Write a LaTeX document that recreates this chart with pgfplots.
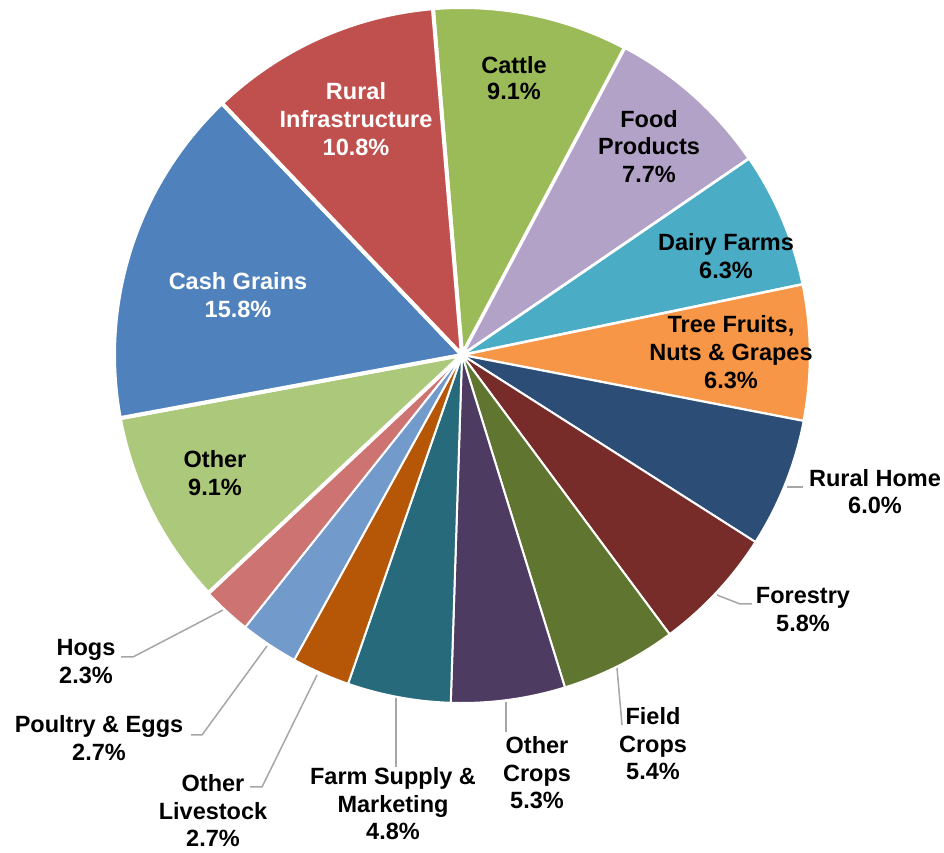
\documentclass[border=0pt]{standalone}
\usepackage{pgfplots}
\pgfplotsset{compat=1.18}
\usepackage{fontspec}
\setmainfont{Liberation Sans}
\definecolor{cattle}{HTML}{9BBB59}
\definecolor{food}{HTML}{B3A2C7}
\definecolor{dairy}{HTML}{4BACC6}
\definecolor{tree}{HTML}{F79646}
\definecolor{ruralhome}{HTML}{2C4D75}
\definecolor{forestry}{HTML}{772C2A}
\definecolor{field}{HTML}{5F7530}
\definecolor{othercrops}{HTML}{4D3B62}
\definecolor{farm}{HTML}{276A7C}
\definecolor{otherlive}{HTML}{B65708}
\definecolor{poultry}{HTML}{729ACA}
\definecolor{hogs}{HTML}{CD7371}
\definecolor{other}{HTML}{ACC87A}
\definecolor{cash}{HTML}{4F81BD}
\definecolor{ruralinf}{HTML}{C0504D}
\definecolor{leader}{HTML}{A6A6A6}
\begin{document}
\begin{tikzpicture}
\begin{axis}[hide axis, x=1pt, y=1pt, xmin=-462, xmax=482, ymin=-498, ymax=355, clip=false]
\pgfplotsextra{
  \gdef\cum{94.8}
  % value / colour / border width  (clockwise from the top)
  \foreach \v/\c/\w in {9.1/cattle/4, 7.7/food/3, 6.3/dairy/2.5, 6.3/tree/2.5,
     6.0/ruralhome/2, 5.8/forestry/2, 5.4/field/2, 5.3/othercrops/2, 4.8/farm/2,
     2.7/otherlive/2, 2.7/poultry/2, 2.3/hogs/2, 9.1/other/4, 15.8/cash/4, 10.8/ruralinf/4} {
    \pgfmathsetmacro\a{\cum}
    \pgfmathsetmacro\b{\cum-360*\v/100.1}
    \pgfmathsetmacro\px{348*cos(\a)}
    \pgfmathsetmacro\py{348*sin(\a)}
    \fill[\c, draw=white, line width=\w pt, line join=round] (axis cs:0,0) -- (axis cs:\px,\py) arc[start angle=\a, end angle=\b, radius=348pt] -- cycle;
    \xdef\cum{\b}
  }
  % leader lines
  \draw[leader, line width=1.5pt] (axis cs:-239,-255) -- (axis cs:-329,-302) -- (axis cs:-341,-302);
  \draw[leader, line width=1.5pt] (axis cs:-195,-291) -- (axis cs:-260,-380) -- (axis cs:-271,-380);
  \draw[leader, line width=1.5pt] (axis cs:-145,-320) -- (axis cs:-200,-432) -- (axis cs:-212,-432);
  \draw[leader, line width=1.5pt] (axis cs:-66,-343) -- (axis cs:-66,-412);
  \draw[leader, line width=1.5pt] (axis cs:44,-347) -- (axis cs:44,-377);
  \draw[leader, line width=1.5pt] (axis cs:155,-313) -- (axis cs:160,-370);
  \draw[leader, line width=1.5pt] (axis cs:255,-240) -- (axis cs:278,-249) -- (axis cs:290,-249);
  \draw[leader, line width=1.5pt] (axis cs:325,-132) -- (axis cs:341,-132);
  % labels: x / baseline y / colour / text
  \foreach \x/\y/\c/\t in {
     -224/65/white/{Cash Grains}, -224/37/white/{15.8\%},
     -106/255/white/{Rural}, -106/227/white/{Infrastructure}, -106/199/white/{10.8\%},
     52/281/black/{Cattle}, 52/255/black/{9.1\%},
     187/227/black/{Food}, 187/200/black/{Products}, 187/172/black/{7.7\%},
     264/104/black/{Dairy Farms}, 264/76/black/{6.3\%},
     269/22/black/{Tree Fruits,}, 269/-6/black/{Nuts \& Grapes}, 269/-34/black/{6.3\%},
     413/-132/black/{Rural Home}, 413/-159/black/{6.0\%},
     341/-249/black/{Forestry}, 341/-277/black/{5.8\%},
     191/-370/black/{Field}, 191/-398/black/{Crops}, 191/-425/black/{5.4\%},
     75/-399/black/{Other}, 75/-427/black/{Crops}, 75/-454/black/{5.3\%},
     -69/-430/black/{Farm Supply \&}, -69/-458/black/{Marketing}, -69/-485/black/{4.8\%},
     -249/-437/black/{Other}, -249/-465/black/{Livestock}, -249/-492/black/{2.7\%},
     -363/-378/black/{Poultry \& Eggs}, -363/-406/black/{2.7\%},
     -376/-301/black/{Hogs}, -376/-329/black/{2.3\%},
     -247/-113/black/{Other}, -247/-141/black/{9.1\%}} {
    \node[anchor=base, inner sep=0pt, text=\c, font=\fontsize{23.5}{28}\selectfont\bfseries] at (axis cs:\x,\y) {\t};
  }
}
\end{axis}
\pgfresetboundingbox
\path (current axis.south west) rectangle (current axis.north east);
\end{tikzpicture}
\end{document}
